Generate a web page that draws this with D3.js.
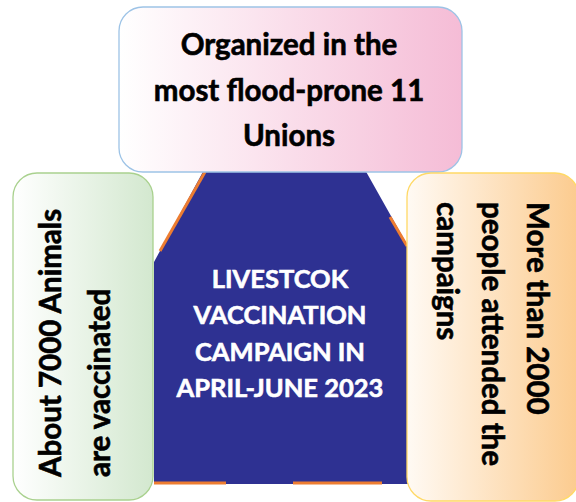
<!DOCTYPE html>
<html>
<head>
<meta charset="utf-8">
<script src="https://cdn.jsdelivr.net/npm/d3@7"></script>
<style>
  html, body { margin: 0; padding: 0; background: #fff; }
  svg { display: block; }
</style>
</head>
<body>
<div id="diagram"></div>
<script>
// texts of the diagram
var topLines = ["Organized in the", "most flood-prone 11", "Unions"];
var leftLines = ["About 7000 Animals", "are vaccinated"];
var rightLines = ["More than 2000", "people attended the", "campaigns"];
var centerLines = ["LIVESTCOK", "VACCINATION", "CAMPAIGN IN", "APRIL-JUNE 2023"];

var width = 576, height = 502;
var font = "Lato, 'Carlito', Calibri, sans-serif";

var svg = d3.select("#diagram").append("svg")
    .attr("width", width).attr("height", height);

var defs = svg.append("defs");
function grad(id, c0, c1) {
    var g = defs.append("linearGradient").attr("id", id)
        .attr("x1", "0%").attr("y1", "0%").attr("x2", "100%").attr("y2", "0%");
    g.append("stop").attr("offset", "0%").attr("stop-color", c0);
    g.append("stop").attr("offset", "100%").attr("stop-color", c1);
}
grad("gTop", "#ffffff", "#f5bcd6");
grad("gLeft", "#ffffff", "#d3e8cf");
grad("gRight", "#fffaf4", "#fccb8e");

// bold text helper (a thin stroke thickens Lato towards Calibri bold)
function styleText(sel, size, color) {
    sel.style("font-family", font).style("font-weight", "bold")
        .style("font-size", size + "px")
        .attr("fill", color).attr("stroke", color).attr("stroke-width", 0.6);
}

// central shape
var shape = [[205, 168], [364, 168], [409, 248], [409, 484], [154, 484], [154, 262]];
svg.append("path")
    .attr("d", d3.line()(shape) + "Z")
    .attr("fill", "#2e3192");

// orange outline fragments
var orange = [
    [[205, 172], [160, 251]],
    [[390, 217], [407, 246]],
    [[154, 483], [226, 483]],
    [[293, 483], [382, 483]]
];
orange.forEach(function (seg) {
    svg.append("path").attr("d", d3.line()(seg))
        .attr("stroke", "#ed7d31").attr("stroke-width", 3).attr("fill", "none");
});

svg.selectAll("text.center").data(centerLines).enter().append("text")
    .attr("class", "center")
    .attr("x", 280)
    .attr("y", function (d, i) { return 288 + i * 36.4; })
    .attr("text-anchor", "middle")
    .call(styleText, 25.5, "#ffffff")
    .text(function (d) { return d; });

// top box
svg.append("rect")
    .attr("x", 119).attr("y", 7).attr("width", 343).attr("height", 165)
    .attr("rx", 24).attr("fill", "url(#gTop)")
    .attr("stroke", "#9dc3e6").attr("stroke-width", 1.3);
svg.selectAll("text.top").data(topLines).enter().append("text")
    .attr("class", "top")
    .attr("x", 289)
    .attr("y", function (d, i) { return 55 + i * 45.5; })
    .attr("text-anchor", "middle")
    .call(styleText, 29.5, "#000")
    .text(function (d) { return d; });

// left box
svg.append("rect")
    .attr("x", 13).attr("y", 173).attr("width", 140).attr("height", 327)
    .attr("rx", 24).attr("fill", "url(#gLeft)")
    .attr("stroke", "#a9d18e").attr("stroke-width", 1.3);
var lg = svg.append("g").attr("transform", "translate(0,477) rotate(-90)");
lg.selectAll("text").data(leftLines).enter().append("text")
    .attr("x", 0)
    .attr("y", function (d, i) { return 61 + i * 49; })
    .call(styleText, 29.5, "#000")
    .text(function (d) { return d; });

// right box
svg.append("rect")
    .attr("x", 407).attr("y", 173).attr("width", 172).attr("height", 328)
    .attr("rx", 24).attr("fill", "url(#gRight)")
    .attr("stroke", "#ffd966").attr("stroke-width", 1.3);
var rg = svg.append("g").attr("transform", "translate(576,202) rotate(90)");
rg.selectAll("text").data(rightLines).enter().append("text")
    .attr("x", 0)
    .attr("y", function (d, i) { return 49 + i * 45; })
    .call(styleText, 29.5, "#000")
    .text(function (d) { return d; });
</script>
</body>
</html>
